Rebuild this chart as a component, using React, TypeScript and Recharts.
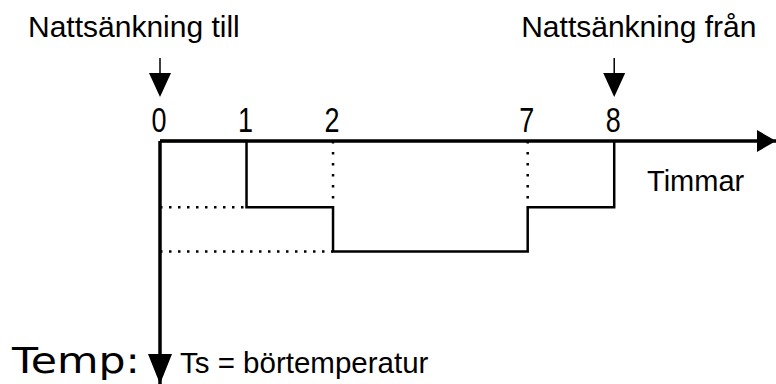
import React from "react";
import {
  ComposedChart,
  Line,
  XAxis,
  YAxis,
  ReferenceLine,
  ReferenceDot,
} from "recharts";

// hours on the time axis and the temperature drop at each change
const hours = [0, 1, 2, 7, 8];
const drops = [0, -3, -5, -3, 0];
const hourLabels = ["0", "1", "2", "7", "8"];

// dotted guide lines
const guideLevels = [
  { from: 0, to: 1, level: -3 },
  { from: 0, to: 2, level: -5 },
];
const guideHours = [
  { hour: 2, from: 0, to: -3 },
  { hour: 7, from: 0, to: -3 },
];

const captions: Record<number, string> = {
  0: "Nattsänkning till",
  8: "Nattsänkning från",
};

// the axis is broken between 2 and 7 h, that stretch is drawn shorter
const BREAK_START = 2;
const BREAK_END = 7;
const BREAK_LEN = 2.25;
const axisPos = (h: number) => {
  if (h <= BREAK_START) return h;
  if (h >= BREAK_END) return h - (BREAK_END - BREAK_START) + BREAK_LEN;
  return BREAK_START + ((h - BREAK_START) / (BREAK_END - BREAK_START)) * BREAK_LEN;
};

const X_MAX = 7.12;
const Y_MIN = -11;

const data = hours.map((h, i) => ({ pos: axisPos(h), drop: drops[i] }));

const font = "'Liberation Sans', Arial, sans-serif";

const HourTick = (props: any) => {
  const { x, y, payload } = props;
  const idx = hours.findIndex((h) => Math.abs(axisPos(h) - payload.value) < 1e-6);
  const hour = hours[idx];
  const caption = captions[hour];
  return (
    <g>
      <text
        x={x - 1}
        y={y - 1}
        textAnchor="middle"
        fontFamily={font}
        fontSize={35}
        textLength={15}
        lengthAdjust="spacingAndGlyphs"
        fill="#000"
      >
        {hourLabels[idx]}
      </text>
      {caption && (
        <g>
          <line x1={x} y1={y - 75} x2={x} y2={y - 58} stroke="#000" strokeWidth={1.5} />
          <polygon points={`${x - 11},${y - 60} ${x + 11},${y - 60} ${x},${y - 36}`} fill="#000" />
          <text
            x={hour === 0 ? x - 132 : x - 93}
            y={37}
            fontFamily={font}
            fontSize={30}
            fill="#000"
          >
            {caption}
          </text>
        </g>
      )}
    </g>
  );
};

const RightArrow = (props: any) => {
  const { cx, cy } = props;
  return <polygon points={`${cx - 19},${cy - 11} ${cx - 19},${cy + 11} ${cx},${cy}`} fill="#000" />;
};

const DownArrow = (props: any) => {
  const { cx, cy } = props;
  return <polygon points={`${cx - 12},${cy - 30} ${cx + 12},${cy - 30} ${cx},${cy}`} fill="#000" />;
};

export default function App() {
  return (
    <div style={{ position: "absolute", left: 0, top: 0, width: 776, height: 384, background: "#fff" }}>
      <ComposedChart
        width={776}
        height={384}
        data={data}
        margin={{ top: 111, right: 0, bottom: 0, left: 160 }}
      >
        <XAxis
          type="number"
          dataKey="pos"
          orientation="top"
          domain={[0, X_MAX]}
          ticks={hours.map(axisPos)}
          interval={0}
          axisLine={false}
          tickLine={false}
          tick={<HourTick />}
          height={30}
        />
        <YAxis type="number" domain={[Y_MIN, 0]} hide />

        {guideLevels.map((g, i) => (
          <ReferenceLine
            key={"gl" + i}
            segment={[
              { x: axisPos(g.from), y: g.level },
              { x: axisPos(g.to), y: g.level },
            ]}
            stroke="#000"
            strokeWidth={2.5}
            strokeDasharray="2.5 6.5"
          />
        ))}
        {guideHours.map((g, i) => (
          <ReferenceLine
            key={"gh" + i}
            segment={[
              { x: axisPos(g.hour), y: g.from },
              { x: axisPos(g.hour), y: g.to },
            ]}
            stroke="#000"
            strokeWidth={2.5}
            strokeDasharray="2.5 8.5"
          />
        ))}

        <ReferenceLine y={0} stroke="#000" strokeWidth={3.5} />
        <ReferenceLine x={0} stroke="#000" strokeWidth={3.5} />

        <Line
          type="stepAfter"
          dataKey="drop"
          stroke="#000"
          strokeWidth={2.5}
          dot={false}
          isAnimationActive={false}
        />

        <ReferenceDot x={X_MAX} y={0} r={1} shape={<RightArrow />} />
        <ReferenceDot x={0} y={Y_MIN} r={1} shape={<DownArrow />} />
      </ComposedChart>

      <svg
        width={776}
        height={384}
        style={{ position: "absolute", left: 0, top: 0, pointerEvents: "none" }}
      >
        <text x={647} y={191} fontFamily={font} fontSize={29} fill="#000">
          Timmar
        </text>
        <text
          x={12}
          y={373}
          fontFamily="'DejaVu Sans', sans-serif"
          fontSize={35}
          textLength={128}
          lengthAdjust="spacingAndGlyphs"
          fill="#000"
        >
          Temp:
        </text>
        <text x={180} y={373} fontFamily={font} fontSize={29.5} fill="#000">
          Ts = börtemperatur
        </text>
      </svg>
    </div>
  );
}
